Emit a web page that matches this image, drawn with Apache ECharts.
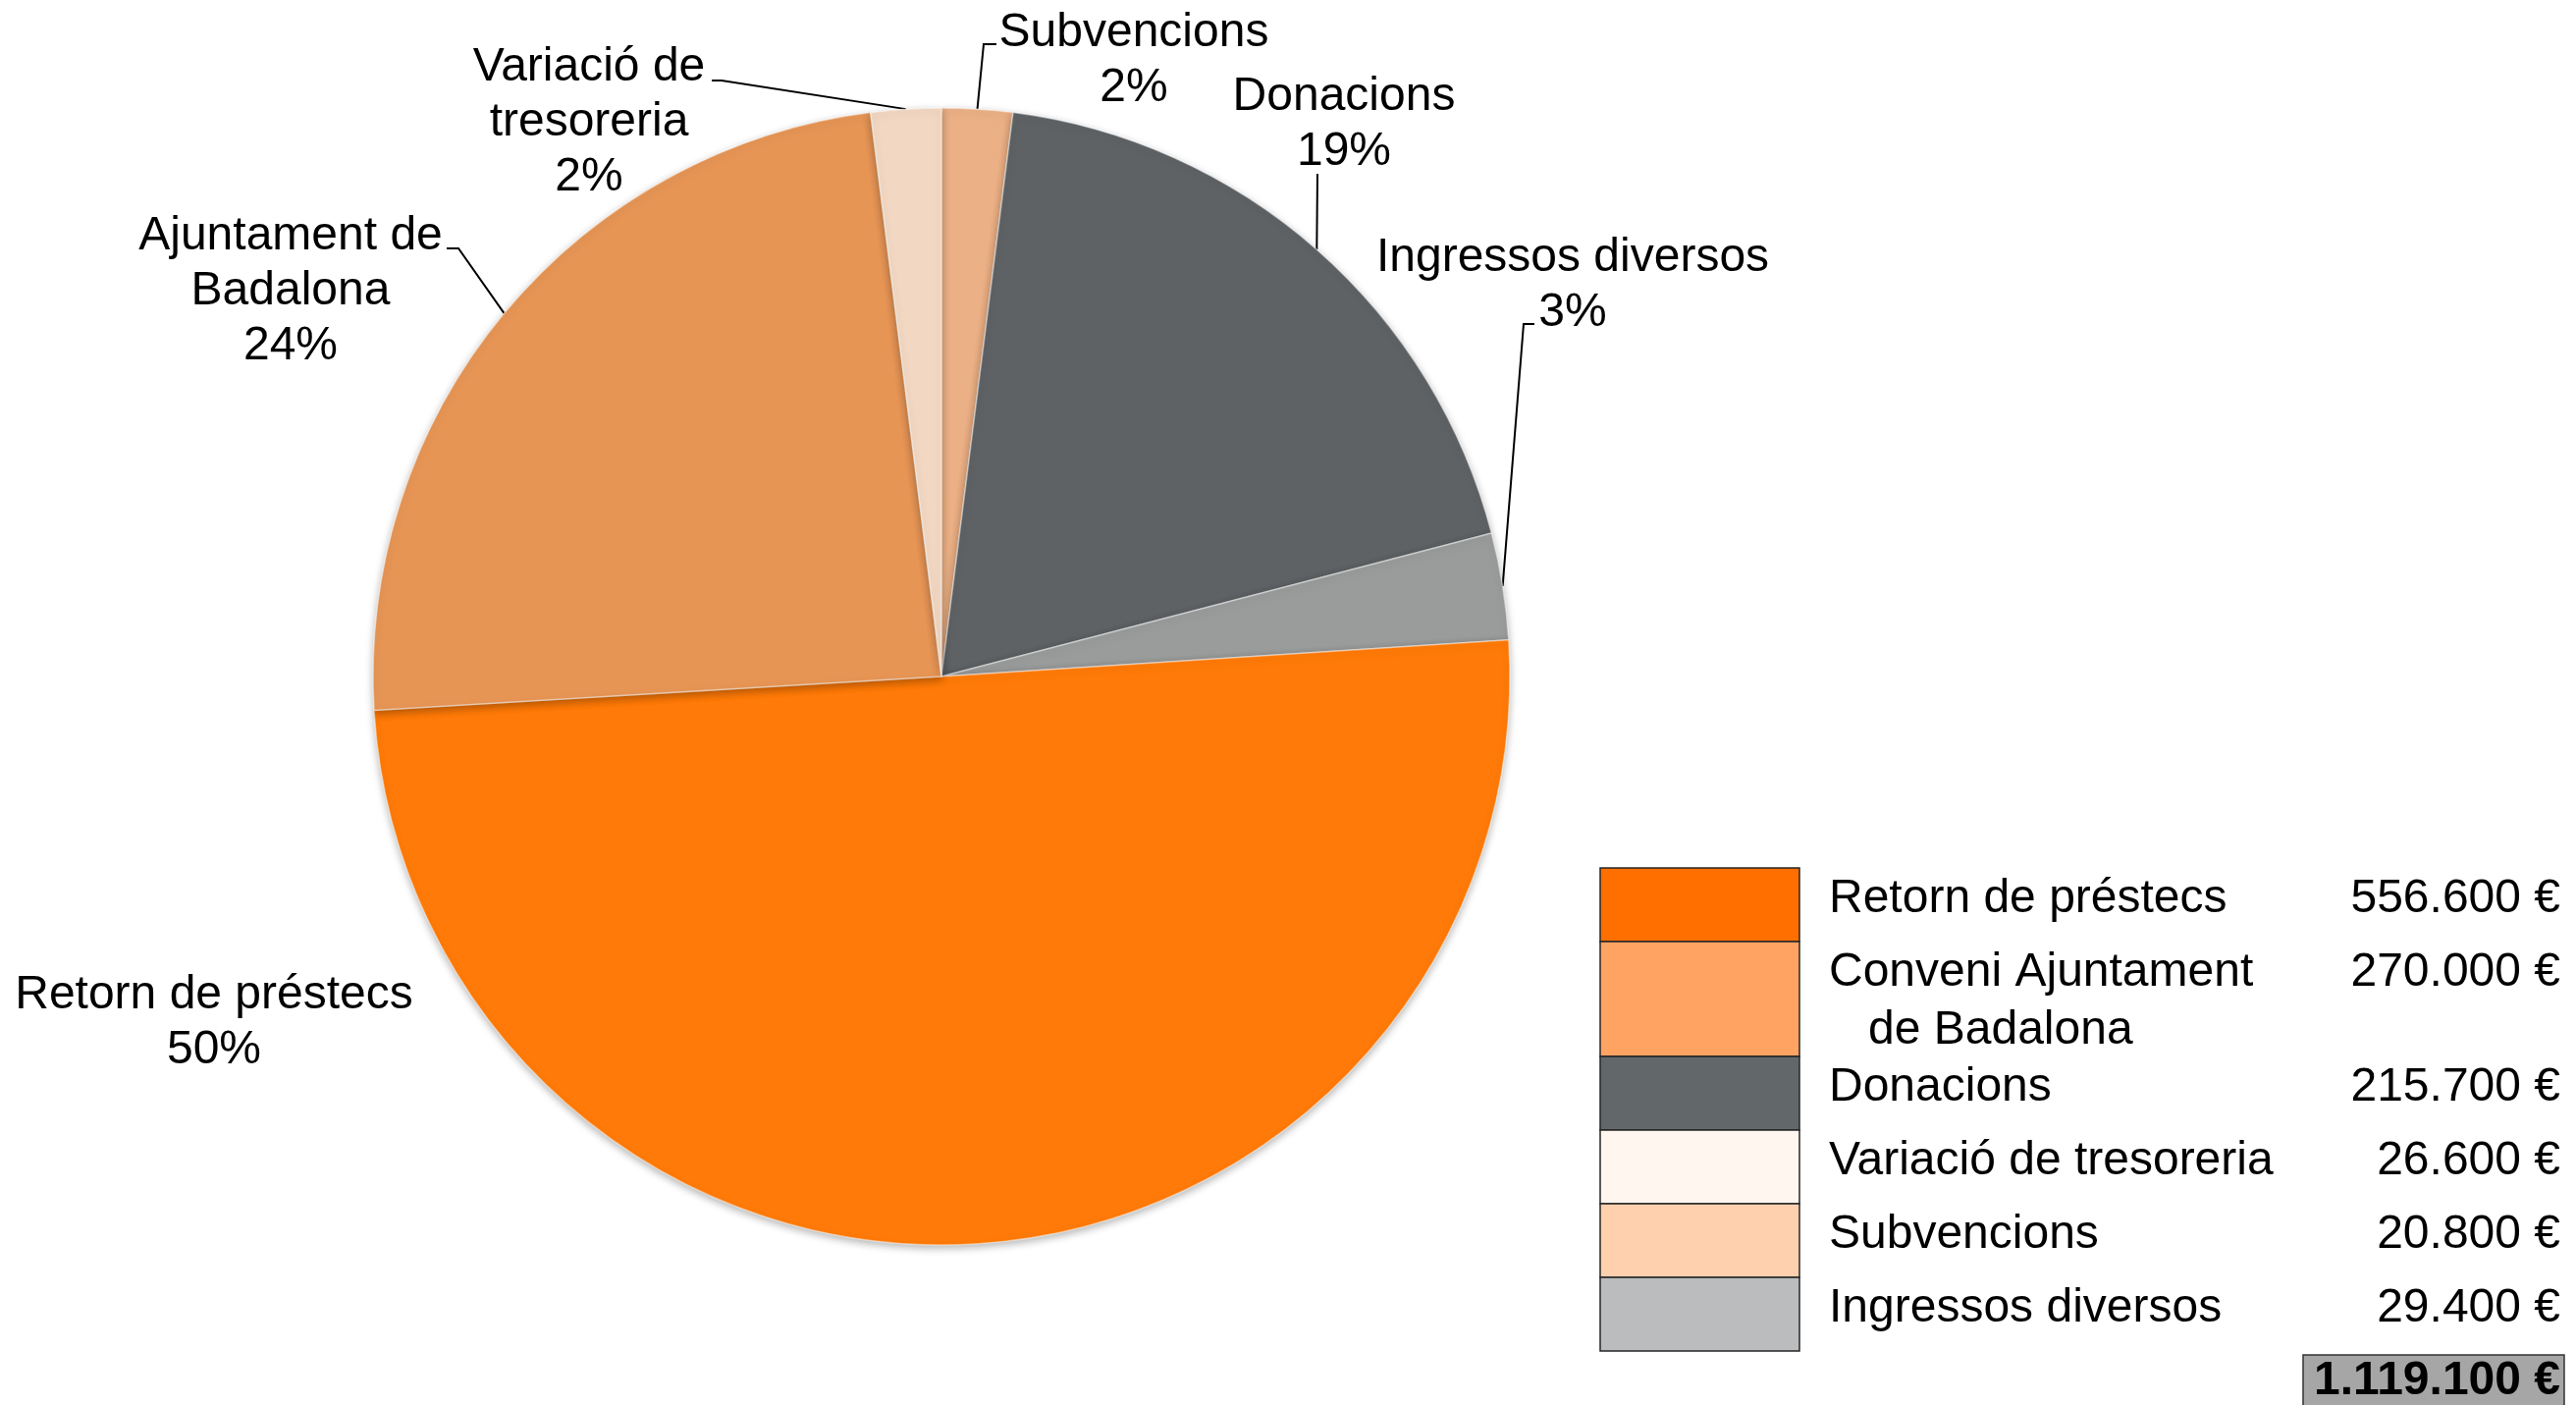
<!DOCTYPE html>
<html>
<head>
<meta charset="utf-8">
<title>Ingressos</title>
<script src="https://cdn.jsdelivr.net/npm/echarts@6/dist/echarts.min.js"></script>
<style>
  html, body { margin: 0; padding: 0; background: #fff; }
  #chart { width: 2624px; height: 1431px; }
</style>
</head>
<body>
<div id="chart"></div>
<script>
// pie slices, clockwise from 12 o'clock
var sliceNames = ['Subvencions', 'Donacions', 'Ingressos diversos', 'Retorn de préstecs', 'Ajuntament de\nBadalona', 'Variació de\ntresoreria'];
var sliceValues = [22500, 211900, 33900, 560400, 268100, 22300];
var sliceColors = ['#EBB085', '#5E6265', '#9A9B9B', '#FF7A08', '#E69555', '#F2D8C2'];

// summary table at the bottom right
var tableNames = ['Retorn de préstecs', 'Conveni Ajuntament\nde Badalona', 'Donacions', 'Variació de tresoreria', 'Subvencions', 'Ingressos diversos'];
var tableValues = [556600, 270000, 215700, 26600, 20800, 29400];
var tableColors = ['#FF6F00', '#FFA362', '#626869', '#FFF6F0', '#FFD0AD', '#BBBCBE'];

var FONT = '"Liberation Sans", Arial, sans-serif';

// where each label sits (centre of the text block) and the bends of its leader line
var labelPos = [[1155, 62], [1369, 127], [1602, 291], [218, 1042], [296, 297], [600, 125]];
var linePts = [
    [[1002, 45], [1015, 45]],
    [[1342, 177], [1342, 177]],
    [[1552, 330], [1563, 330]],
    null,
    [[467, 253], [455, 253]],
    [[735, 82], [725, 82]]
];

function euro(v) {
    return String(v).replace(/\B(?=(\d{3})+(?!\d))/g, '.') + ' €';
}

var myChart = echarts.init(document.getElementById('chart'));

// table graphics
var graphics = [];
var top0 = 884;
var total = 0;
for (var i = 0; i < tableNames.length; i++) {
    var lines = tableNames[i].split('\n');
    var h = 75 + (lines.length - 1) * 42;
    total += tableValues[i];
    graphics.push({
        type: 'rect',
        shape: { x: 1630, y: top0, width: 203, height: h },
        style: { fill: tableColors[i], stroke: '#262626', lineWidth: 1.5 }
    });
    for (var j = 0; j < lines.length; j++) {
        graphics.push({
            type: 'text',
            x: 1863 + (j > 0 ? 40 : 0),
            y: top0 + 32 + j * 59,
            style: {
                text: lines[j], fill: '#000', font: '48px ' + FONT,
                align: 'left', verticalAlign: 'middle',
                textAlign: 'left', textVerticalAlign: 'middle'
            }
        });
    }
    graphics.push({
        type: 'text',
        x: 2608,
        y: top0 + 32,
        style: {
            text: euro(tableValues[i]), fill: '#000', font: '48px ' + FONT,
            align: 'right', verticalAlign: 'middle',
            textAlign: 'right', textVerticalAlign: 'middle'
        }
    });
    top0 += h;
}
graphics.push({
    type: 'rect',
    shape: { x: 2346, y: 1380, width: 266, height: 60 },
    style: { fill: '#A6A6A6', stroke: '#333', lineWidth: 1.5 }
});
graphics.push({
    type: 'text',
    x: 2608,
    y: 1407,
    style: {
        text: euro(total), fill: '#000', font: 'bold 48px ' + FONT,
        align: 'right', verticalAlign: 'middle',
        textAlign: 'right', textVerticalAlign: 'middle'
    }
});

var pieData = sliceNames.map(function (n, k) {
    return {
        name: n,
        value: sliceValues[k],
        itemStyle: { color: sliceColors[k] },
        labelLine: { show: linePts[k] !== null }
    };
});

var option = {
    animation: false,
    graphic: graphics,
    series: [
        {
            type: 'pie',
            center: [959, 689],
            radius: 579,
            startAngle: 90,
            clockwise: true,
            percentPrecision: 0,
            avoidLabelOverlap: false,
            silent: true,
            itemStyle: {
                borderColor: 'rgba(255,255,255,0.45)',
                borderWidth: 1.5,
                shadowBlur: 8,
                shadowOffsetY: 3,
                shadowColor: 'rgba(0,0,0,0.3)'
            },
            label: {
                show: true,
                position: 'outside',
                formatter: '{b}\n{d}%',
                fontFamily: FONT,
                fontSize: 48,
                lineHeight: 56,
                color: '#000',
                align: 'center'
            },
            labelLine: {
                show: true,
                lineStyle: { color: '#000', width: 2 }
            },
            labelLayout: function (params) {
                var k = params.dataIndex;
                var res = {
                    x: labelPos[k][0],
                    y: labelPos[k][1],
                    align: 'center',
                    verticalAlign: 'middle'
                };
                if (linePts[k] && params.labelLinePoints) {
                    res.labelLinePoints = [params.labelLinePoints[0], linePts[k][0], linePts[k][1]];
                }
                return res;
            },
            data: pieData
        }
    ]
};

myChart.setOption(option);
</script>
</body>
</html>
